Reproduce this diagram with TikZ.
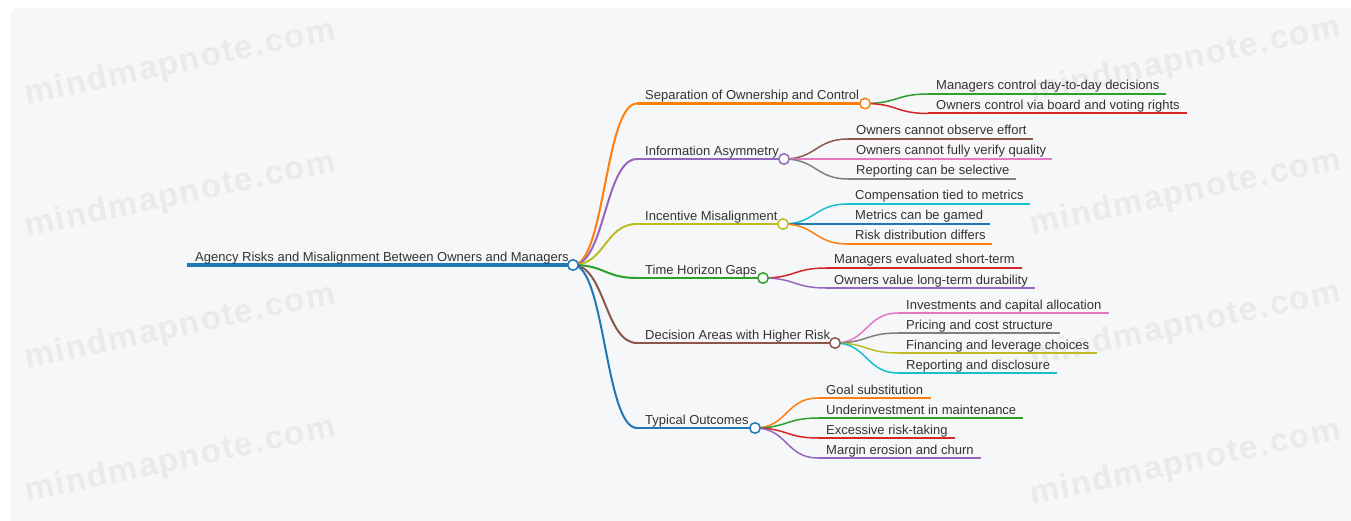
\documentclass[tikz,border=0pt]{standalone}
\usepackage{fontspec}
\setmainfont{Liberation Sans}
\newfontfamily\wmfont[LetterSpace=5]{Liberation Sans}
\definecolor{bgcol}{HTML}{F6F7F9}
\definecolor{wmcol}{HTML}{E9EAEC}
\definecolor{txt}{HTML}{333333}
\definecolor{cblue}{HTML}{1F77B4}
\definecolor{corange}{HTML}{FF7F0E}
\definecolor{cgreen}{HTML}{2CA02C}
\definecolor{cred}{HTML}{D62728}
\definecolor{cpurple}{HTML}{9467BD}
\definecolor{cbrown}{HTML}{8C564B}
\definecolor{cpink}{HTML}{E377C2}
\definecolor{cgray}{HTML}{7F7F7F}
\definecolor{colive}{HTML}{BCBD22}
\definecolor{ccyan}{HTML}{17BECF}

% leaf: name, parent coordinate, start x, y, end x, colour, text
\newcommand\leafnode[7]{%
  \coordinate (#1s) at (#3,#4);
  \coordinate (#1e) at (#5,#4);
  \draw[twig,#6] (#2) .. controls +(32,0) and +(-32,0) .. (#1s);
  \draw[leafline,#6] (#1s) -- (#1e);
  \node[leaftext] (#1) at ([xshift=8pt,yshift=4pt]#1s) {#7};
}
% first-level branch: name, y, knob x, colour, text
\newcommand\branchnode[5]{%
  \coordinate (#1s) at (637,#2);
  \coordinate (#1) at (#3,#2);
  \draw[bough,#4] (rc) .. controls +(32,0) and +(-32,0) .. (#1s);
  \draw[boughline,#4] (#1s) -- (#1);
  \node[leaftext] (#1t) at ([xshift=8pt,yshift=3.5pt]#1s) {#5};
}

\begin{document}
\begin{tikzpicture}[x=1pt,y=-1pt,
  wm/.style={anchor=base west,rotate=12,inner sep=0pt,text=wmcol,
    font=\wmfont\bfseries\fontsize{33}{33}\selectfont},
  leaftext/.style={anchor=base west,inner sep=0pt,text=txt,
    font=\fontsize{13}{13}\selectfont},
  twig/.style={line width=1.5pt},
  leafline/.style={line width=2pt},
  bough/.style={line width=2pt},
  boughline/.style={line width=2.6pt},
  knob/.style={circle,draw=#1,fill=white,line width=1.5pt,minimum size=10.5pt,inner sep=0pt},
  line cap=butt]
\useasboundingbox (0,0) rectangle (1351,521);
\fill[bgcol,rounded corners=8pt] (10,8) rectangle (1380,560);

% watermarks
\foreach \wx/\wy [count=\i] in {27/105,27/237,27/369,27/502,1032/102,1032/235,1032/367,1032/505}
  \node[wm] (wm\i) at (\wx,\wy) {mindmapnote.com};

% root
\coordinate (r0) at (187,265);
\coordinate (rc) at (573,265);
\draw[cblue,line width=4.5pt] (r0) -- (rc);
\node[leaftext] (root) at (195,261.5) {Agency Risks and Misalignment Between Owners and Managers};

% first level
\branchnode{sep}{103.5}{865}{corange}{Separation of Ownership and Control}
\branchnode{inf}{159}{784}{cpurple}{Information Asymmetry}
\branchnode{inc}{224}{783}{colive}{Incentive Misalignment}
\branchnode{tim}{278}{763}{cgreen}{Time Horizon Gaps}
\branchnode{dec}{343}{835}{cbrown}{Decision Areas with Higher Risk}
\branchnode{typ}{428}{755}{cblue}{Typical Outcomes}

% second level
\leafnode{sepa}{sep}{928}{94}{1166}{cgreen}{Managers control day-to-day decisions}
\leafnode{sepb}{sep}{928}{113.5}{1187}{cred}{Owners control via board and voting rights}

\leafnode{infa}{inf}{848}{139}{1033}{cbrown}{Owners cannot observe effort}
\leafnode{infb}{inf}{848}{159}{1052}{cpink}{Owners cannot fully verify quality}
\leafnode{infc}{inf}{848}{179}{1016}{cgray}{Reporting can be selective}

\leafnode{inca}{inc}{847}{204}{1030}{ccyan}{Compensation tied to metrics}
\leafnode{incb}{inc}{847}{224}{990}{cblue}{Metrics can be gamed}
\leafnode{incc}{inc}{847}{244}{992}{corange}{Risk distribution differs}

\leafnode{tima}{tim}{826}{268}{1022}{cred}{Managers evaluated short-term}
\leafnode{timb}{tim}{826}{288}{1035}{cpurple}{Owners value long-term durability}

\leafnode{deca}{dec}{898}{313}{1109}{cpink}{Investments and capital allocation}
\leafnode{decb}{dec}{898}{333}{1060}{cgray}{Pricing and cost structure}
\leafnode{decc}{dec}{898}{353}{1097}{colive}{Financing and leverage choices}
\leafnode{decd}{dec}{898}{373}{1057}{ccyan}{Reporting and disclosure}

\leafnode{typa}{typ}{818}{398}{931}{corange}{Goal substitution}
\leafnode{typb}{typ}{818}{418}{1023}{cgreen}{Underinvestment in maintenance}
\leafnode{typc}{typ}{818}{438}{955}{cred}{Excessive risk-taking}
\leafnode{typd}{typ}{818}{458}{981}{cpurple}{Margin erosion and churn}

% knobs on top
\node[knob=cblue] (rootknob) at (rc) {};
\node[knob=corange] (sepknob) at (sep) {};
\node[knob=cpurple] (infknob) at (inf) {};
\node[knob=colive] (incknob) at (inc) {};
\node[knob=cgreen] (timknob) at (tim) {};
\node[knob=cbrown] (decknob) at (dec) {};
\node[knob=cblue] (typknob) at (typ) {};
\end{tikzpicture}
\end{document}
